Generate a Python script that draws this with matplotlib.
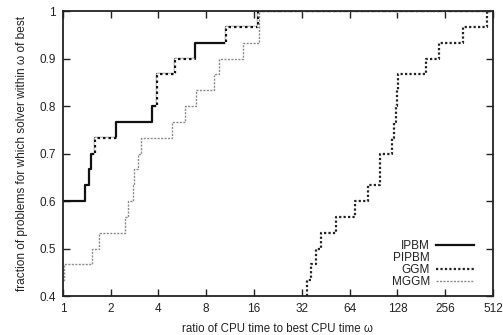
import numpy as np
import matplotlib
matplotlib.use('Agg')
import matplotlib.pyplot as plt

plt.rcParams['font.family'] = ['Liberation Sans', 'DejaVu Sans']

n_prob = 30  # number of test problems

# performance profile data: ratio where the step happens, number of problems solved
ipbm_x = [1, 1.37, 1.46, 1.50, 1.59, 2.15, 3.66, 3.91, 5.07, 6.82, 10.6, 16.9, 512]
ipbm_n = [18, 19, 20, 21, 22, 23, 24, 26, 27, 28, 29, 30, 30]

# PIPBM is drawn in white in the original, only visible where it lies on IPBM
pipbm_x = [1, 1.59, 2.15, 3.91, 5.07, 6.82, 10.6, 16.9, 512]
pipbm_n = [17, 22, 22, 26, 27, 27, 29, 30, 30]

ggm_x = [1, 34.4, 36.7, 39.4, 42.2, 52.4, 69.6, 84, 99, 119, 122, 126, 128, 130,
         195, 235, 331, 468, 512]
ggm_n = [0, 13, 14, 15, 16, 17, 18, 19, 21, 22, 23, 24, 25, 26, 27, 28, 29, 30, 30]

mggm_x = [1, 1.02, 1.53, 1.69, 2.46, 2.59, 2.78, 2.81, 2.97, 3.09, 4.89, 5.89,
          6.88, 8.93, 9.57, 13.7, 17.2, 512]
mggm_n = [13, 14, 15, 16, 17, 18, 19, 20, 21, 22, 23, 24, 25, 26, 27, 28, 30, 30]

xticks = [1, 2, 4, 8, 16, 32, 64, 128, 256, 512]
yticks = [0.4, 0.5, 0.6, 0.7, 0.8, 0.9, 1.0]
ytick_labels = ['0.4', '0.5', '0.6', '0.7', '0.8', '0.9', '1']

fig = plt.figure(figsize=(5.03, 3.35), dpi=100)
ax = fig.add_axes([0.125, 0.116, 0.855, 0.851])

ax.step(ipbm_x, np.array(ipbm_n) / n_prob, where='post', color='#111111', lw=1.6,
        label='IPBM')
ax.step(pipbm_x, np.array(pipbm_n) / n_prob, where='post', color='white', lw=1.8,
        ls=(0, (1.2, 1.0)), label='PIPBM')
ax.step(ggm_x, np.array(ggm_n) / n_prob, where='post', color='#222222', lw=1.6,
        ls=(0, (1, 1.0)), label='GGM')
ax.step(mggm_x, np.array(mggm_n) / n_prob, where='post', color='#8a8a8a', lw=1.0,
        ls=(0, (1.5, 1)), label='MGGM')

ax.set_xscale('log', base=2)
ax.set_xlim(1, 512)
ax.set_ylim(0.4, 1.0)
ax.set_xticks(xticks)
ax.set_xticklabels([str(t) for t in xticks])
ax.minorticks_off()
ax.set_yticks(yticks)
ax.set_yticklabels(ytick_labels)
ax.tick_params(direction='in', length=5, width=1, top=True, right=True,
               labelsize=8.5, colors='#222222', pad=5)

for sp in ax.spines.values():
    sp.set_linewidth(1.3)
    sp.set_color('#222222')

ax.set_xlabel('ratio of CPU time to best CPU time ω', fontsize=8.3, color='#222222',
              labelpad=6)
ax.set_ylabel('fraction of problems for which solver within ω of best', fontsize=8.6,
              color='#222222', labelpad=8)

# markerfirst=False right-aligns the rows, so the labels line up on the right
leg = ax.legend(loc='lower right', bbox_to_anchor=(0.975, 0.0), frameon=False,
                markerfirst=False, fontsize=8.5, handlelength=3.2, handletextpad=0.5,
                labelspacing=0.0, borderaxespad=0.3)
for t in leg.get_texts():
    t.set_color('#222222')

plt.savefig('out.png', dpi=100)
